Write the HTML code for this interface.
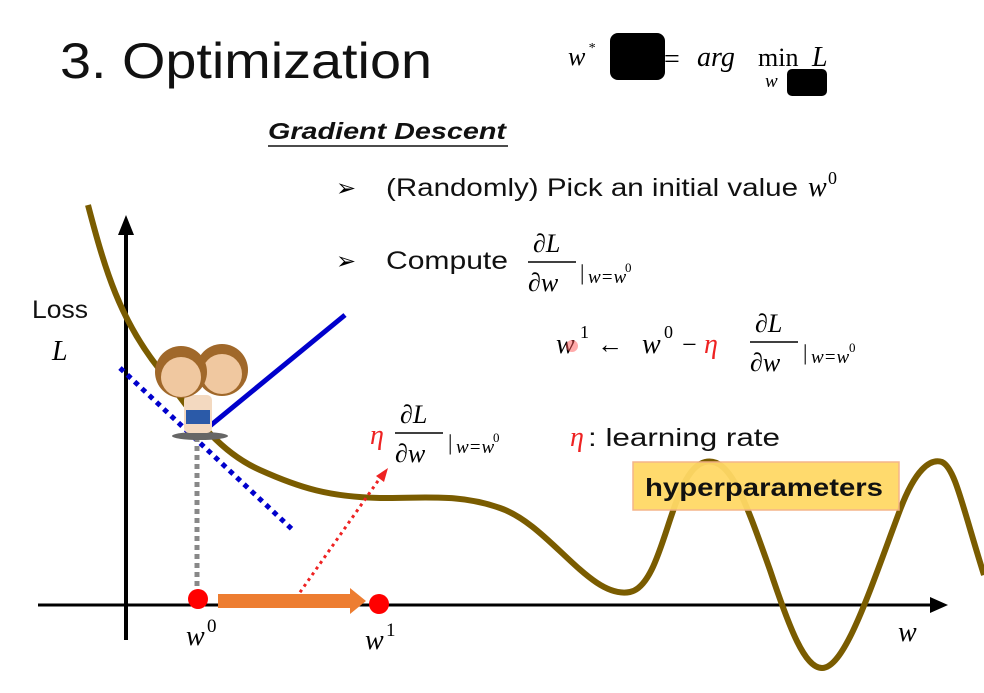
<!DOCTYPE html>
<html><head><meta charset="utf-8"><style>
body{margin:0;background:#fff;width:984px;height:693px;overflow:hidden}
svg{display:block}
.s{font-family:"Liberation Sans",sans-serif}
.m{font-family:"Liberation Serif",serif;font-style:italic}
</style></head><body>
<svg width="984" height="693" viewBox="0 0 984 693">
<text x="60" y="78" class="s" font-size="50" fill="#111" textLength="372" lengthAdjust="spacingAndGlyphs">3. Optimization</text>
<text x="568" y="65" class="m" font-size="26">w</text><text x="588" y="52" class="m" font-size="14">*</text>
<rect x="610" y="33" width="55" height="47" rx="8" fill="#000"/>
<text x="664" y="68" font-family="Liberation Serif" font-size="28">=</text>
<text x="697" y="66" class="m" font-size="28">arg</text>
<text x="758" y="66" font-family="Liberation Serif" font-size="26">min</text>
<text x="812" y="66" class="m" font-size="28">L</text>
<text x="765" y="87" class="m" font-size="19">w</text>
<rect x="787" y="69" width="40" height="27" rx="5" fill="#000"/>
<text x="268" y="139" class="s" font-size="23" font-weight="bold" font-style="italic" fill="#111" textLength="238" lengthAdjust="spacingAndGlyphs">Gradient Descent</text>
<line x1="268" y1="146" x2="508" y2="146" stroke="#111" stroke-width="1.5"/>
<text x="336" y="196" class="s" font-size="24">➢</text>
<text x="386" y="196" class="s" font-size="25" fill="#111" textLength="412" lengthAdjust="spacingAndGlyphs">(Randomly) Pick an initial value</text>
<text x="808" y="196" class="m" font-size="28">w</text><text x="828" y="184" font-family="Liberation Serif" font-size="18">0</text>
<text x="336" y="269" class="s" font-size="24">➢</text>
<text x="386" y="269" class="s" font-size="25" fill="#111" textLength="122" lengthAdjust="spacingAndGlyphs">Compute</text>
<text x="533" y="252" class="m" font-size="26">∂L</text><line x1="528" y1="262" x2="576" y2="262" stroke="#000" stroke-width="1.5"/>
<text x="528" y="291" class="m" font-size="26">∂w</text>
<text x="580" y="280" font-family="Liberation Serif" font-size="22">|</text><text x="588" y="283" class="m" font-size="19">w=w</text><text x="625" y="272" font-family="Liberation Serif" font-size="13">0</text>
<text x="556" y="353" class="m" font-size="28">w</text><text x="580" y="338" font-family="Liberation Serif" font-size="18">1</text>
<circle cx="572" cy="346" r="6" fill="#f55" opacity="0.5"/>
<text x="597" y="353" font-family="Liberation Serif" font-size="26">←</text>
<text x="642" y="353" class="m" font-size="28">w</text><text x="664" y="338" font-family="Liberation Serif" font-size="18">0</text>
<text x="682" y="353" font-family="Liberation Serif" font-size="26">−</text>
<text x="704" y="353" class="m" font-size="28" fill="#e22">η</text>
<text x="755" y="332" class="m" font-size="26">∂L</text><line x1="750" y1="342" x2="798" y2="342" stroke="#000" stroke-width="1.5"/>
<text x="750" y="371" class="m" font-size="26">∂w</text>
<text x="803" y="360" font-family="Liberation Serif" font-size="22">|</text><text x="811" y="363" class="m" font-size="19">w=w</text><text x="849" y="352" font-family="Liberation Serif" font-size="13">0</text>
<text x="370" y="444" class="m" font-size="28" fill="#e22">η</text>
<text x="400" y="423" class="m" font-size="26">∂L</text><line x1="395" y1="433" x2="443" y2="433" stroke="#000" stroke-width="1.5"/>
<text x="395" y="462" class="m" font-size="26">∂w</text>
<text x="448" y="450" font-family="Liberation Serif" font-size="22">|</text><text x="456" y="453" class="m" font-size="19">w=w</text><text x="493" y="442" font-family="Liberation Serif" font-size="13">0</text>
<text x="570" y="446" class="m" font-size="28" fill="#e22">η</text>
<text x="588" y="446" class="s" font-size="25" fill="#111" textLength="192" lengthAdjust="spacingAndGlyphs">: learning rate</text>
<text x="32" y="318" class="s" font-size="25" fill="#111" textLength="56" lengthAdjust="spacingAndGlyphs">Loss</text>
<text x="52" y="360" class="m" font-size="28">L</text>
<line x1="126" y1="640" x2="126" y2="225" stroke="#000" stroke-width="4"/>
<polygon points="126,215 118,235 134,235" fill="#000"/>
<line x1="38" y1="605" x2="935" y2="605" stroke="#000" stroke-width="3"/>
<polygon points="948,605 930,597 930,613" fill="#000"/>
<path d="M88,205 C105,270 120,320 160,370 C190,410 215,450 260,470 C300,488 330,497 380,498 C430,498 460,494 500,508 C550,525 590,600 630,592 C665,585 670,470 705,462 C730,456 745,500 770,570 C790,630 805,668 822,668 C845,668 870,590 900,510 C915,470 930,458 942,462 C955,468 962,505 984,575" fill="none" stroke="#7a5c00" stroke-width="6"/>
<line x1="120" y1="368" x2="295" y2="532" stroke="#00c" stroke-width="5" stroke-dasharray="5,5"/>
<line x1="205" y1="430" x2="345" y2="315" stroke="#00c" stroke-width="5"/>
<line x1="197" y1="437" x2="197" y2="595" stroke="#888" stroke-width="5" stroke-dasharray="5,4"/>
<ellipse cx="200" cy="436" rx="28" ry="4" fill="#666"/>
<rect x="184" y="395" width="28" height="38" rx="5" fill="#f3d9c0"/>
<rect x="186" y="410" width="24" height="14" fill="#2b5aa8"/>
<circle cx="222" cy="370" r="26" fill="#a0682a"/><circle cx="222" cy="374" r="20" fill="#f0c8a0"/>
<circle cx="181" cy="372" r="26" fill="#a0682a"/><circle cx="181" cy="377" r="20" fill="#f0c8a0"/>
<line x1="296" y1="598" x2="380" y2="478" stroke="#e22" stroke-width="3" stroke-dasharray="3,4"/>
<polygon points="388,468 376,476 384,482" fill="#e22"/>
<rect x="218" y="594" width="134" height="14" fill="#ed7d31"/>
<polygon points="350,588 366,601 350,614" fill="#ed7d31"/>
<circle cx="198" cy="599" r="10" fill="#f00"/>
<circle cx="379" cy="604" r="10" fill="#f00"/>
<text x="186" y="645" class="m" font-size="28">w</text><text x="207" y="632" font-family="Liberation Serif" font-size="19">0</text>
<text x="365" y="649" class="m" font-size="28">w</text><text x="386" y="636" font-family="Liberation Serif" font-size="19">1</text>
<text x="898" y="641" class="m" font-size="28">w</text>
<rect x="633" y="462" width="266" height="48" fill="#ffd966" stroke="#f4b183" stroke-width="1.5" opacity="0.95"/>
<text x="645" y="496" class="s" font-size="25" font-weight="bold" fill="#111" textLength="238" lengthAdjust="spacingAndGlyphs">hyperparameters</text>
</svg>
</body></html>
